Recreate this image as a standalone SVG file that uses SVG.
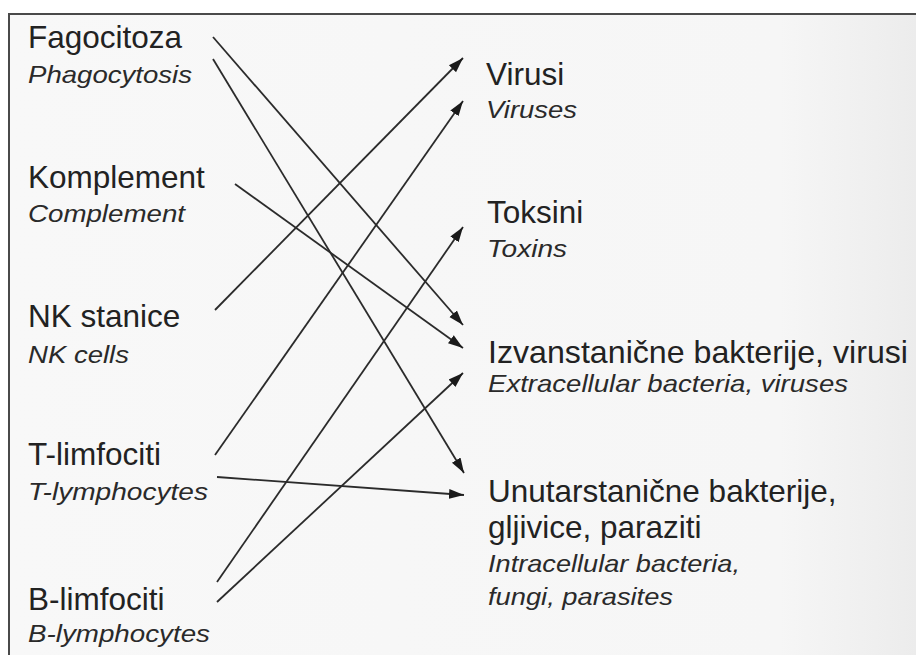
<svg xmlns="http://www.w3.org/2000/svg" width="916" height="655" viewBox="0 0 916 655">
<style>
.m{font-family:"Liberation Sans",Arial,sans-serif;font-size:31.5px;fill:#222}
.s{font-family:"Liberation Sans",Arial,sans-serif;font-size:24px;font-style:italic;fill:#2a2a2a}
.c{stroke:#2b2b2b;stroke-width:1.8;fill:none;marker-end:url(#ah)}
</style>
<defs>
<marker id="ah" markerUnits="userSpaceOnUse" markerWidth="16" markerHeight="12" viewBox="0 0 16 12" refX="15" refY="6" orient="auto">
<path d="M0,1 L15,6 L0,11 Z" fill="#1a1a1a"/>
</marker>
<linearGradient id="bg" x1="0" y1="0" x2="1" y2="0">
<stop offset="0" stop-color="#f8f8f8"/>
<stop offset="0.85" stop-color="#f6f6f6"/>
<stop offset="1" stop-color="#ececec"/>
</linearGradient>
</defs>
<rect x="0" y="0" width="916" height="655" fill="#ffffff"/>
<rect x="9" y="14" width="907" height="641" fill="url(#bg)"/>
<path d="M9,655 L9,14 L916,14" stroke="#4a4a4a" stroke-width="2" fill="none"/>
<g id="connectors">
<line class="c" x1="213" y1="37" x2="463" y2="325"/>
<line class="c" x1="213" y1="59" x2="464" y2="473"/>
<line class="c" x1="235" y1="184" x2="463" y2="348"/>
<line class="c" x1="215" y1="310" x2="463" y2="58"/>
<line class="c" x1="215" y1="455" x2="463" y2="101"/>
<line class="c" x1="217" y1="477" x2="464" y2="495"/>
<line class="c" x1="217" y1="582" x2="463" y2="227"/>
<line class="c" x1="217" y1="602" x2="463" y2="373"/>
</g>
<g id="fagocitoza">
<text class="m" x="28" y="48">Fagocitoza</text>
<text class="s" x="28" y="83" textLength="164" lengthAdjust="spacingAndGlyphs">Phagocytosis</text>
</g>
<g id="komplement">
<text class="m" x="28" y="188">Komplement</text>
<text class="s" x="28" y="222" textLength="157" lengthAdjust="spacingAndGlyphs">Complement</text>
</g>
<g id="nk">
<text class="m" x="28" y="327">NK stanice</text>
<text class="s" x="28" y="363" textLength="101" lengthAdjust="spacingAndGlyphs">NK cells</text>
</g>
<g id="t-limfociti">
<text class="m" x="28" y="465">T-limfociti</text>
<text class="s" x="28" y="500" textLength="180" lengthAdjust="spacingAndGlyphs">T-lymphocytes</text>
</g>
<g id="b-limfociti">
<text class="m" x="28" y="610">B-limfociti</text>
<text class="s" x="28" y="642" textLength="182" lengthAdjust="spacingAndGlyphs">B-lymphocytes</text>
</g>
<g id="virusi">
<text class="m" x="486" y="85">Virusi</text>
<text class="s" x="486" y="118" textLength="91" lengthAdjust="spacingAndGlyphs">Viruses</text>
</g>
<g id="toksini">
<text class="m" x="487" y="223">Toksini</text>
<text class="s" x="487" y="257" textLength="80" lengthAdjust="spacingAndGlyphs">Toxins</text>
</g>
<g id="izvanstanicne">
<text class="m" x="488" y="363" textLength="420" lengthAdjust="spacingAndGlyphs">Izvanstanične bakterije, virusi</text>
<text class="s" x="488" y="392" textLength="360" lengthAdjust="spacingAndGlyphs">Extracellular bacteria, viruses</text>
</g>
<g id="unutarstanicne">
<text class="m" x="488" y="502">Unutarstanične bakterije,</text>
<text class="m" x="488" y="538">gljivice, paraziti</text>
<text class="s" x="488" y="572" textLength="252" lengthAdjust="spacingAndGlyphs">Intracellular bacteria,</text>
<text class="s" x="488" y="605" textLength="185" lengthAdjust="spacingAndGlyphs">fungi, parasites</text>
</g>
</svg>
